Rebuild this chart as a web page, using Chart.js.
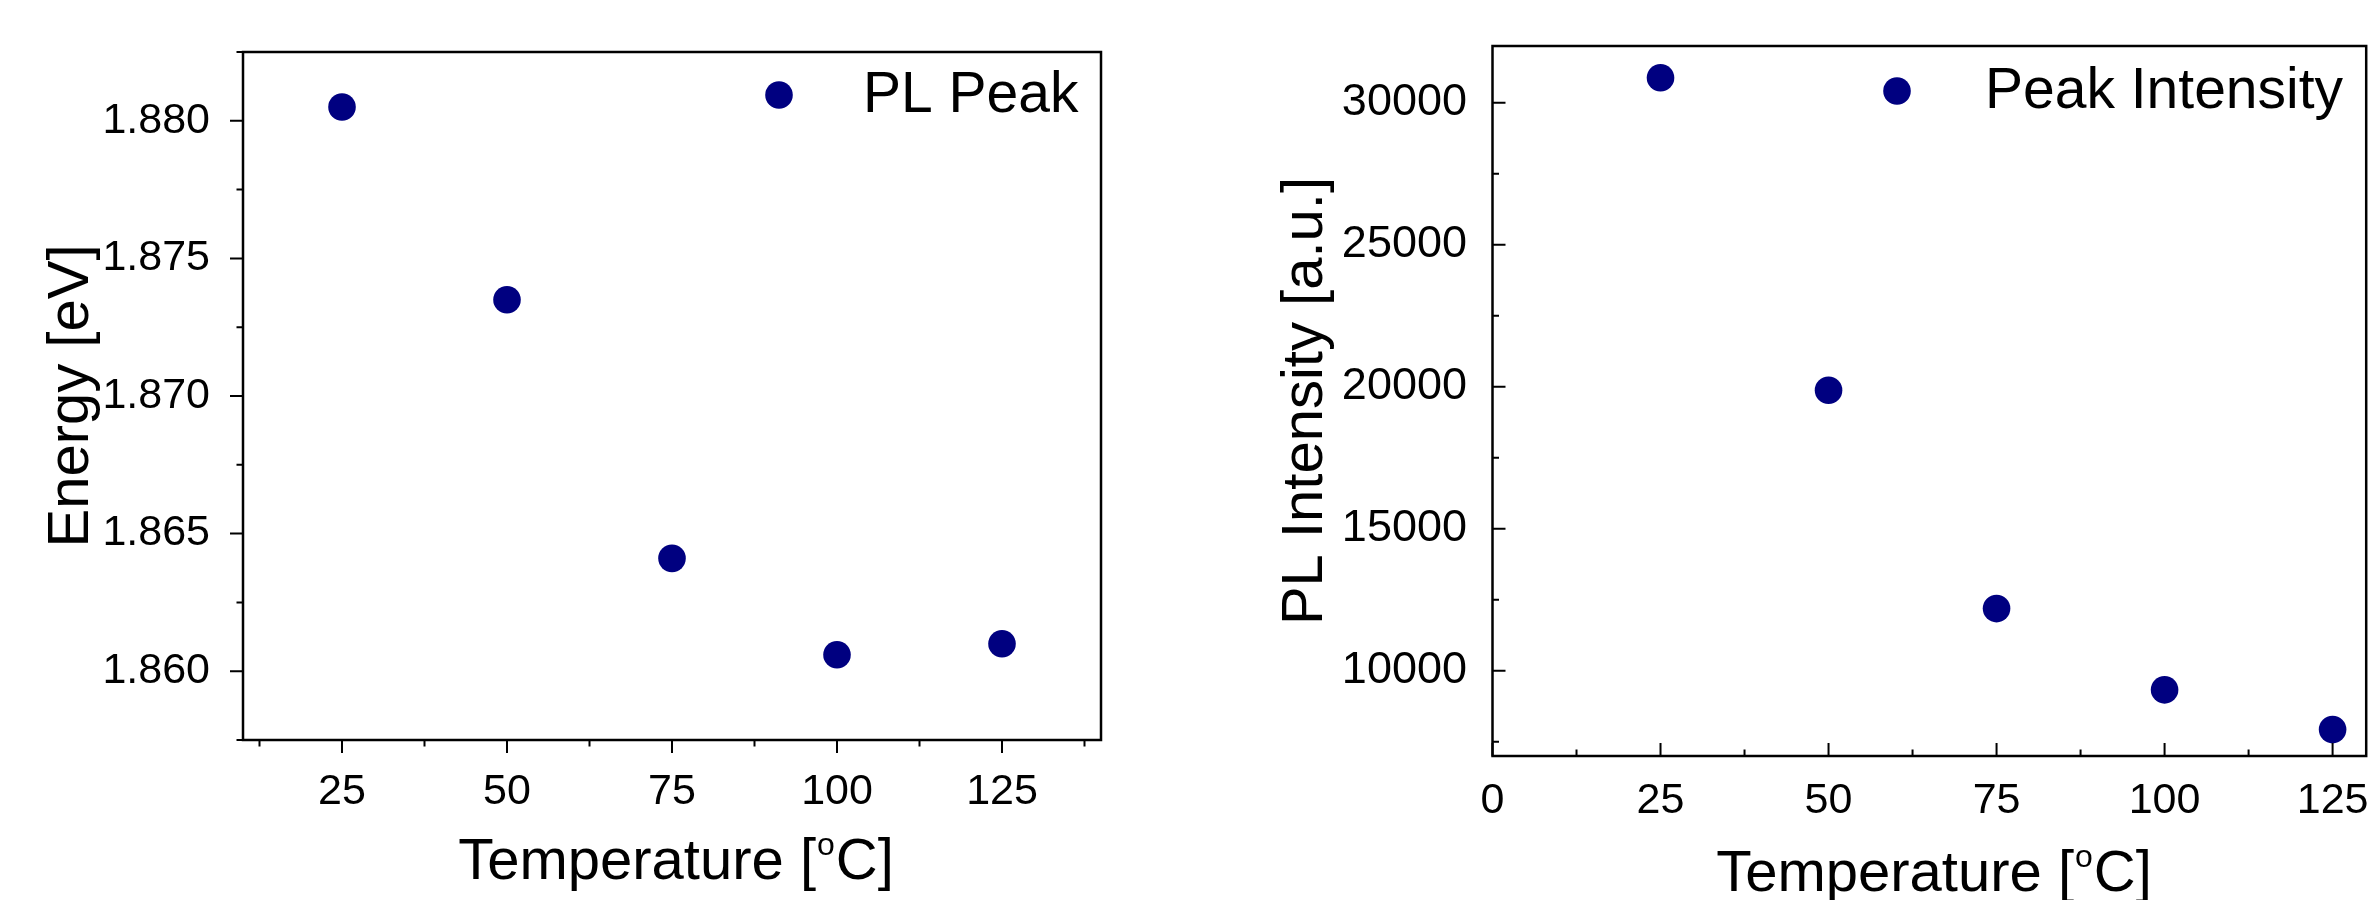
<!DOCTYPE html>
<html>
<head>
<meta charset="UTF-8">
<title>PL Peak and Intensity vs Temperature</title>
<script src="https://cdn.jsdelivr.net/npm/chart.js@4.4.0/dist/chart.umd.min.js"></script>
<style>
body { margin: 0; background: #fff; }
.panel { position: absolute; top: 0; width: 1190px; height: 900px; }
</style>
</head>
<body>
<div class="panel" style="left:0"><canvas id="energyChart"></canvas></div>
<div class="panel" style="left:1190px"><canvas id="intensityChart"></canvas></div>

<script>
// values
var temperature = [25, 50, 75, 100, 125];
var plPeak = [1.8805, 1.8735, 1.8641, 1.8606, 1.8610];
var peakIntensity = [30880, 19880, 12190, 9330, 7930];

// tick labels
var energyXTicks = [25, 50, 75, 100, 125];
var energyYTicks = [1.860, 1.865, 1.870, 1.875, 1.880];
var intensityXTicks = [0, 25, 50, 75, 100, 125];
var intensityYTicks = [10000, 15000, 20000, 25000, 30000];

var FONT = '"Liberation Sans", Arial, sans-serif';
var NAVY = '#000080';

function toPoints(xs, ys) {
	return xs.map(function(x, i) { return { x: x, y: ys[i] }; });
}

// midpoints between major ticks, plus the half step beyond each end
function minorsOf(majors, min, max) {
	var step = majors[1] - majors[0];
	var out = majors.map(function(v) { return v - step / 2; });
	out.push(majors[majors.length - 1] + step / 2);
	return out.filter(function(v) { return v >= min - 1e-9 && v <= max + 1e-9; });
}

// box around the plot + major/minor tick marks
var frameAndTicks = {
	id: 'frameAndTicks',
	afterDraw: function(chart, args, opts) {
		var ctx = chart.ctx, a = chart.chartArea;
		var xs = chart.scales.x, ys = chart.scales.y;
		var d = opts.inward ? -1 : 1;
		ctx.save();
		ctx.strokeStyle = '#000';
		ctx.lineWidth = 2;
		ctx.beginPath();
		var mark = function(scale, values, len) {
			values.forEach(function(v) {
				var p = scale.getPixelForValue(v);
				if (scale.axis === 'x') {
					ctx.moveTo(p, a.bottom);
					ctx.lineTo(p, a.bottom + d * len);
				} else {
					ctx.moveTo(a.left, p);
					ctx.lineTo(a.left - d * len, p);
				}
			});
		};
		mark(xs, opts.xMajor, 13);
		mark(xs, minorsOf(opts.xMajor, xs.min, xs.max), 6.5);
		mark(ys, opts.yMajor, 13);
		mark(ys, minorsOf(opts.yMajor, ys.min, ys.max), 6.5);
		ctx.stroke();
		ctx.lineWidth = 2.5;
		ctx.strokeRect(a.left, a.top, a.right - a.left, a.bottom - a.top);
		ctx.restore();
	}
};

// axis titles and the legend entry
var panelText = {
	id: 'panelText',
	afterDraw: function(chart, args, o) {
		var ctx = chart.ctx, a = chart.chartArea;
		ctx.save();
		ctx.fillStyle = '#000';

		// y title, rotated
		ctx.font = '58px ' + FONT;
		ctx.translate(o.yTitleX, (a.top + a.bottom) / 2);
		ctx.rotate(-Math.PI / 2);
		ctx.textAlign = 'center';
		ctx.textBaseline = 'alphabetic';
		ctx.fillText(o.yTitle, 0, 0);
		ctx.setTransform(1, 0, 0, 1, 0, 0);

		// x title with superscript o
		var big = '58px ' + FONT, small = '32px ' + FONT;
		var p1 = 'Temperature [', sup = 'o', p2 = 'C]';
		ctx.font = big;
		var w1 = ctx.measureText(p1).width, w3 = ctx.measureText(p2).width;
		ctx.font = small;
		var w2 = ctx.measureText(sup).width + 2;
		var x0 = o.xTitleX - (w1 + w2 + w3) / 2;
		ctx.textAlign = 'left';
		ctx.font = big;
		ctx.fillText(p1, x0, o.xTitleY);
		ctx.font = small;
		ctx.fillText(sup, x0 + w1 + 1, o.xTitleY - 24);
		ctx.font = big;
		ctx.fillText(p2, x0 + w1 + w2, o.xTitleY);

		// legend
		var ds = chart.data.datasets[0];
		ctx.fillStyle = ds.backgroundColor;
		ctx.beginPath();
		ctx.arc(o.legendX, o.legendY, 13.8, 0, Math.PI * 2);
		ctx.fill();
		ctx.fillStyle = '#000';
		ctx.font = '57px ' + FONT;
		ctx.textBaseline = 'middle';
		ctx.fillText(ds.label, o.legendTextX, o.legendY + 1);
		ctx.restore();
	}
};

function tickFont(size) {
	return { family: FONT, size: size };
}

new Chart(document.getElementById('energyChart'), {
	type: 'scatter',
	data: {
		datasets: [{
			label: 'PL Peak',
			data: toPoints(temperature, plPeak),
			backgroundColor: NAVY,
			borderWidth: 0,
			pointRadius: 13.8,
			pointHoverRadius: 13.8
		}]
	},
	options: {
		responsive: true,
		maintainAspectRatio: false,
		animation: false,
		devicePixelRatio: 1,
		events: [],
		layout: { padding: { top: 52, right: 89, left: 0, bottom: 0 } },
		plugins: {
			legend: { display: false },
			tooltip: { enabled: false },
			frameAndTicks: { inward: false, xMajor: energyXTicks, yMajor: energyYTicks },
			panelText: {
				yTitle: 'Energy [eV]', yTitleX: 88,
				xTitleX: 676, xTitleY: 879,
				legendX: 779, legendY: 95, legendTextX: 863
			}
		},
		scales: {
			x: {
				type: 'linear', min: 10, max: 140,
				grid: { display: false }, border: { display: false },
				afterBuildTicks: function(s) { s.ticks = energyXTicks.map(function(v) { return { value: v }; }); },
				afterFit: function(s) { s.height = 160; s.paddingLeft = 0; s.paddingRight = 0; },
				ticks: { padding: 18, color: '#000', font: tickFont(43), maxRotation: 0, autoSkip: false }
			},
			y: {
				type: 'linear', min: 1.8575, max: 1.8825,
				grid: { display: false }, border: { display: false },
				afterBuildTicks: function(s) { s.ticks = energyYTicks.map(function(v) { return { value: v }; }); },
				afterFit: function(s) { s.width = 243; s.paddingTop = 0; s.paddingBottom = 0; },
				ticks: {
					padding: 25, color: '#000', font: tickFont(43), autoSkip: false,
					callback: function(v) { return v.toFixed(3); }
				}
			}
		}
	},
	plugins: [frameAndTicks, panelText]
});

new Chart(document.getElementById('intensityChart'), {
	type: 'scatter',
	data: {
		datasets: [{
			label: 'Peak Intensity',
			data: toPoints(temperature, peakIntensity),
			backgroundColor: NAVY,
			borderWidth: 0,
			pointRadius: 13.8,
			pointHoverRadius: 13.8
		}]
	},
	options: {
		responsive: true,
		maintainAspectRatio: false,
		animation: false,
		devicePixelRatio: 1,
		events: [],
		layout: { padding: { top: 46, right: 3.3, left: 0, bottom: 0 } },
		plugins: {
			legend: { display: false },
			tooltip: { enabled: false },
			frameAndTicks: { inward: true, xMajor: intensityXTicks, yMajor: intensityYTicks },
			panelText: {
				yTitle: 'PL Intensity [a.u.]', yTitleX: 132,
				xTitleX: 744, xTitleY: 891,
				legendX: 707, legendY: 91, legendTextX: 795
			}
		},
		scales: {
			x: {
				type: 'linear', min: 0, max: 130,
				grid: { display: false }, border: { display: false },
				afterBuildTicks: function(s) { s.ticks = intensityXTicks.map(function(v) { return { value: v }; }); },
				afterFit: function(s) { s.height = 144; s.paddingLeft = 0; s.paddingRight = 0; },
				ticks: { padding: 11, color: '#000', font: tickFont(43), maxRotation: 0, autoSkip: false }
			},
			y: {
				type: 'linear', min: 7000, max: 32000,
				grid: { display: false }, border: { display: false },
				afterBuildTicks: function(s) { s.ticks = intensityYTicks.map(function(v) { return { value: v }; }); },
				afterFit: function(s) { s.width = 302.5; s.paddingTop = 0; s.paddingBottom = 0; },
				ticks: {
					padding: 17.5, color: '#000', font: tickFont(45), autoSkip: false,
					callback: function(v) { return String(v); }
				}
			}
		}
	},
	plugins: [frameAndTicks, panelText]
});
</script>
</body>
</html>
